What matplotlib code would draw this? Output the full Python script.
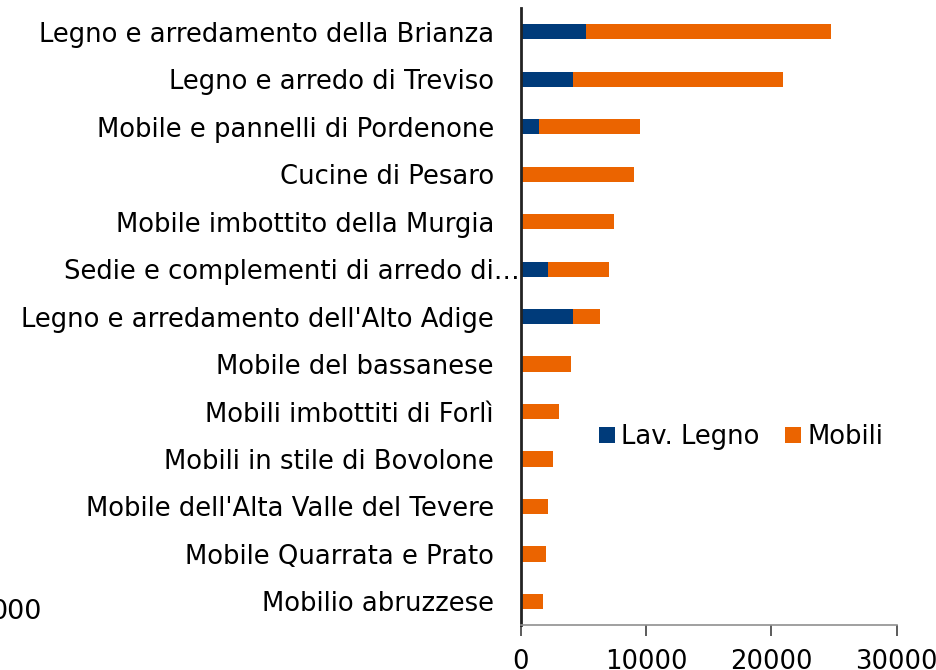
import matplotlib
matplotlib.use("Agg")
import matplotlib.pyplot as plt
from matplotlib.transforms import ScaledTranslation

# distretti del legno-arredo, dal più grande al più piccolo
categories = [
    "Legno e arredamento della Brianza",
    "Legno e arredo di Treviso",
    "Mobile e pannelli di Pordenone",
    "Cucine di Pesaro",
    "Mobile imbottito della Murgia",
    "Sedie e complementi di arredo di…",
    "Legno e arredamento dell'Alto Adige",
    "Mobile del bassanese",
    "Mobili imbottiti di Forlì",
    "Mobili in stile di Bovolone",
    "Mobile dell'Alta Valle del Tevere",
    "Mobile Quarrata e Prato",
    "Mobilio abruzzese",
]
lav_legno = [5180, 4170, 1460, 0, 0, 2150, 4170, 0, 0, 0, 0, 0, 0]
mobili = [19590, 16790, 8010, 9040, 7420, 4870, 2130, 3960, 3030, 2580, 2180, 1960, 1720]
xticks = [0, 10000, 20000, 30000]

BLUE = "#003b7a"
ORANGE = "#eb6400"
FS = 18.6

plt.rcParams["font.family"] = ["DejaVu Sans"]

fig = plt.figure(figsize=(9.37, 6.70), dpi=100)
ax = fig.add_axes([0.556, 0.067, 0.401, 0.921])

y = range(len(categories))
ax.barh(y, lav_legno, height=0.32, color=BLUE, label="Lav. Legno")
ax.barh(y, mobili, left=lav_legno, height=0.32, color=ORANGE, label="Mobili")

ax.set_ylim(len(categories) - 0.5, -0.5)
ax.set_xlim(0, 30000)
ax.set_xticks(xticks)
ax.set_xticklabels([str(v) for v in xticks], fontsize=FS)
ax.set_yticks(list(y))
ax.set_yticklabels(categories, fontsize=FS)

ax.tick_params(axis="y", length=0, pad=19.5)
ax.tick_params(axis="x", length=8, width=1.2, color="#404040", pad=9)

# la voce troncata arriva fino all'asse
lbl = ax.get_yticklabels()[5]
lbl.set_transform(lbl.get_transform() + ScaledTranslation(26 / 100, 0, fig.dpi_scale_trans))

for s in ["top", "right"]:
    ax.spines[s].set_visible(False)
ax.spines["left"].set_linewidth(2)
ax.spines["left"].set_color("#222222")
ax.spines["bottom"].set_color("#909090")
ax.spines["bottom"].set_linewidth(1.2)

ax.legend(loc="center", bbox_to_anchor=(0.586, 0.305), ncol=2, frameon=False,
          fontsize=FS, handlelength=0.6, handleheight=0.6, handletextpad=0.25,
          columnspacing=1.0)

# resto di un grafico adiacente tagliato
fig.text(-0.01, 0.087, "000", fontsize=19.5, va="center", ha="left")

fig.savefig("out.png", dpi=100)
